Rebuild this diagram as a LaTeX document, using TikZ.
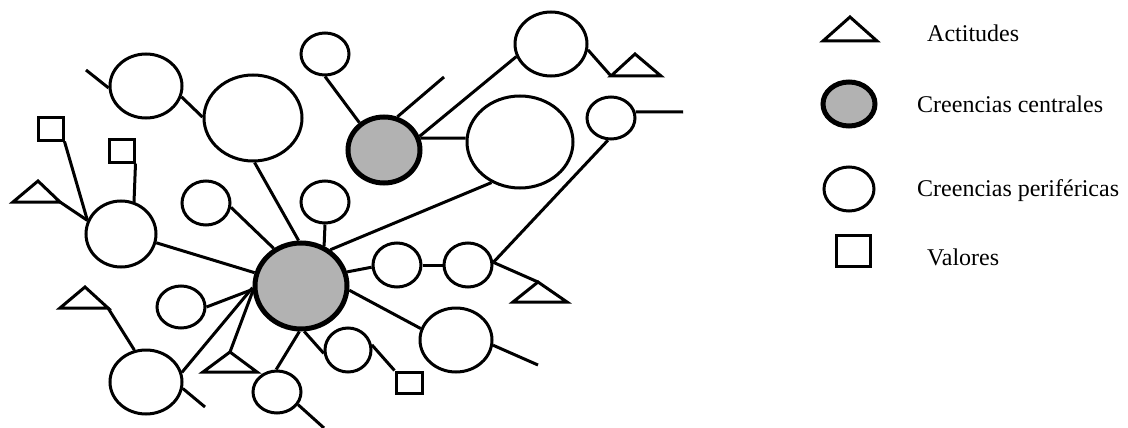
\documentclass[tikz,border=0pt]{standalone}
\usepackage{fontspec}
\setmainfont{Liberation Serif}
\usetikzlibrary{shapes.geometric}
\definecolor{coregray}{RGB}{178,178,178}
\tikzset{
  per/.style={draw, ellipse, line width=3pt, inner sep=0pt, fill=white},
  cen/.style={draw, ellipse, line width=5pt, inner sep=0pt, fill=coregray},
  sq/.style={draw, rectangle, line width=3pt, inner sep=0pt, fill=white},
  ln/.style={line width=3pt},
  tri/.style={line width=3pt, line join=miter},
  lbl/.style={anchor=base west, inner sep=0pt, font=\fontsize{24}{28}\selectfont}
}
\begin{document}
\begin{tikzpicture}[x=1pt,y=-1pt]
\useasboundingbox (0,0) rectangle (1128,428);
% peripheral and central beliefs
\node[per, minimum width=72pt, minimum height=64pt] (pa) at (146,86) {};
\node[per, minimum width=98pt, minimum height=86pt] (pb) at (253,118) {};
\node[cen, minimum width=92pt, minimum height=86pt] (cc) at (301,286) {};
\node[per, minimum width=48pt, minimum height=42pt] (pd) at (325,54) {};
\node[cen, minimum width=72pt, minimum height=66pt] (ce) at (384,150) {};
\node[per, minimum width=70pt, minimum height=66pt] (pf) at (121,234) {};
\node[per, minimum width=48pt, minimum height=44pt] (pg) at (206,203) {};
\node[per, minimum width=48pt, minimum height=42pt] (ph) at (325,202) {};
\node[per, minimum width=72pt, minimum height=64pt] (pi) at (146,382) {};
\node[per, minimum width=48pt, minimum height=42pt] (pj) at (181,307) {};
\node[per, minimum width=48pt, minimum height=42pt] (pk) at (277,392) {};
\node[per, minimum width=46pt, minimum height=44pt] (pl) at (348,350) {};
\node[per, minimum width=48pt, minimum height=44pt] (pm) at (397,265) {};
\node[per, minimum width=48pt, minimum height=44pt] (pn) at (468,265) {};
\node[per, minimum width=48pt, minimum height=42pt] (po) at (611,118) {};
\node[per, minimum width=72pt, minimum height=64pt] (pp) at (456,340) {};
\node[per, minimum width=106pt, minimum height=92pt] (pq) at (520,142) {};
\node[per, minimum width=72pt, minimum height=64pt] (pr) at (551,44) {};
% values
\node[sq, minimum width=25pt, minimum height=23pt] (s1) at (50.5,128.5) {};
\node[sq, minimum width=25pt, minimum height=23pt] (s2) at (121.5,150.5) {};
\node[sq, minimum width=26pt, minimum height=21pt] (s3) at (409,382.5) {};
% attitudes
\coordinate (t1l) at (13,202); \coordinate (t1r) at (60,202); \coordinate (t1a) at (38,181);
\coordinate (t2l) at (60,308); \coordinate (t2r) at (108,308); \coordinate (t2a) at (85,287);
\coordinate (t3l) at (203,372); \coordinate (t3r) at (257,372); \coordinate (t3a) at (230,352);
\coordinate (t4l) at (513,302); \coordinate (t4r) at (567,302); \coordinate (t4a) at (538,282);
\coordinate (t5l) at (611,76); \coordinate (t5r) at (661,76); \coordinate (t5a) at (635,54);
\draw[tri] (t1l) -- (t1r) -- (t1a) -- cycle;
\draw[tri] (t2l) -- (t2r) -- (t2a) -- cycle;
\draw[tri] (t3l) -- (t3r) -- (t3a) -- cycle;
\draw[tri] (t4l) -- (t4r) -- (t4a) -- cycle;
\draw[tri] (t5l) -- (t5r) -- (t5a) -- cycle;
% free ends
\coordinate (fa) at (86,70);
\coordinate (fe) at (444,77);
\coordinate (fo) at (683,112);
\coordinate (fp) at (538,365);
\coordinate (fk) at (324,428);
\coordinate (fi) at (205,407);
% connectors
\draw[ln] (pa.183) -- (fa);
\draw[ln] (pa.-17) -- (pb.179);
\draw[ln] (pb.-88) -- (cc.93);
\draw[ln] (pd.-90) -- (ce.132);
\draw[ln] (ce.68) -- (fe);
\draw[ln] (ce.18) -- (pq.176);
\draw[ln] (ce.21) -- (pr.200);
\draw[ln] (pr.-9) -- (t5l);
\draw[ln] (pq.235) -- (cc.51);
\draw[ln] (po.14) -- (fo);
\draw[ln] (po.262) -- (pn.6);
\draw[ln] (pn.6) -- (t4a);
\draw[ln] (pm) -- (pn);
\draw[ln] (cc.17) -- (pm.185);
\draw[ln] (cc.-5) -- (pp.162);
\draw[ln] (pp.-8) -- (fp);
\draw[ln] (cc.-86) -- (pl.188);
\draw[ln] (pl.12) -- (s3.north west);
\draw[ln] (cc.-92) -- (pk.92);
\draw[ln] (pk.-31) -- (fk);
\draw[ln] (t3a) -- (cc.186);
\draw[ln] (pj.0) -- (cc.184);
\draw[ln] (pi.15) -- (cc.182);
\draw[ln] (pi.-10) -- (fi);
\draw[ln] (t2r) -- (pi.110);
\draw[ln] (pf.-14) -- (cc.164);
\draw[ln] (s1.south east) -- (pf.158);
\draw[ln] (t1r) -- (pf.158);
\draw[ln] (s2.south east) -- (pf.68);
\draw[ln] (pg.-10) -- (cc.126);
\draw[ln] (ph.-90) -- (cc.60);
% legend
\coordinate (lgl) at (823,41); \coordinate (lgr) at (877,41); \coordinate (lga) at (850,17);
\draw[tri] (lgl) -- (lgr) -- (lga) -- cycle;
\node[cen, minimum width=52pt, minimum height=44pt] (lc) at (849,104) {};
\node[per, minimum width=50pt, minimum height=44pt] (lp) at (849,189) {};
\node[sq, minimum width=34pt, minimum height=31pt] (ls) at (853,251) {};
\node[lbl] (tx1) at (927,42) {Actitudes};
\node[lbl] (tx2) at (917,113) {Creencias centrales};
\node[lbl] (tx3) at (917,196) {Creencias periféricas};
\node[lbl] (tx4) at (927,265) {Valores};
\end{tikzpicture}
\end{document}
